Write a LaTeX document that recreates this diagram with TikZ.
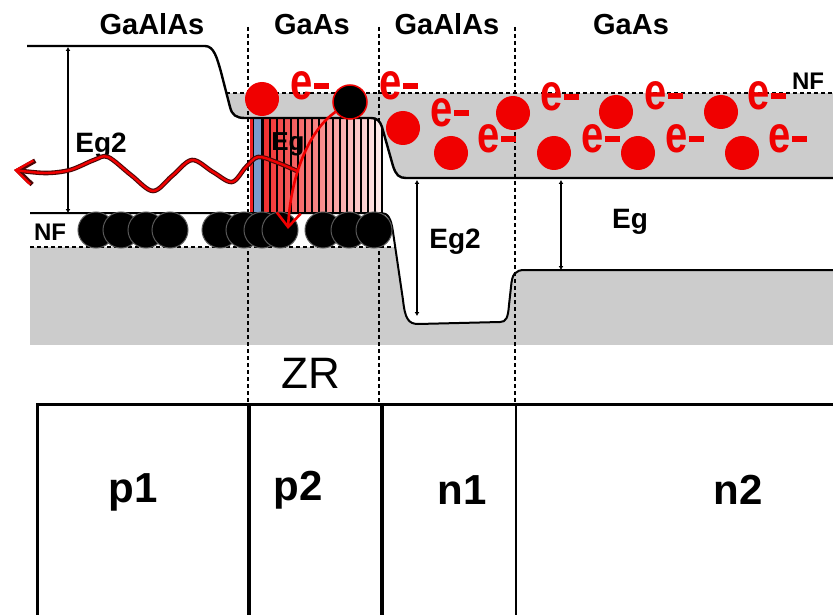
\documentclass[tikz,border=0pt]{standalone}
\usepackage{fontspec}
\setmainfont{Liberation Sans}
\usepackage{graphicx}
\usetikzlibrary{arrows.meta}

\definecolor{elecRed}{HTML}{F00000}
\definecolor{bandGray}{HTML}{CCCCCC}
\definecolor{photonDark}{HTML}{4A0808}
\definecolor{stripBlue}{HTML}{7A9CCB}

% electron charge label: tall e followed by a bar
\newcommand{\echarge}{\scalebox{1}[1.3]{e}\hspace{1pt}\rule[11pt]{15pt}{5.5pt}}

% band edges (pixel grid, y downwards)
\newcommand{\condband}{(27,46) -- (205,46) .. controls (214,46) and (217,58) .. (221,72)
  -- (230,107) .. controls (232,115) and (236,118) .. (245,118) -- (371,118)
  .. controls (377,118) and (380,121) .. (382,127) -- (393,166)
  .. controls (396,175) and (399,178) .. (406,178) -- (833,178)}
\newcommand{\valband}{(30,213) -- (381,213) .. controls (388,213) and (391,218) .. (393,232)
  -- (403,300) .. controls (405,318) and (408,324) .. (418,324) -- (500,322)
  .. controls (506,322) and (508,318) .. (509,305) -- (511,287)
  .. controls (512,274) and (515,270) .. (525,270) -- (833,270)}

\tikzset{
    band/.style={
        line width=2.4pt,
        line join=round
    },
    fermi/.style={
        dash pattern=on 4pt off 3pt,
        line width=1.3pt
    },
    border/.style={
        dash pattern=on 4pt off 3pt,
        line width=1.8pt
    },
    gap/.style={
        {Latex[length=4pt,width=5pt]}-{Latex[length=4pt,width=5pt]},
        line width=1.8pt
    },
    electron/.style={
        circle,
        fill=elecRed,
        minimum size=34pt,
        inner sep=0pt
    },
    trapped/.style={
        electron,
        fill=black,
        draw=elecRed,
        line width=1.5pt
    },
    hole/.style={
        circle,
        fill=black,
        draw=black!65,
        line width=1pt,
        minimum size=36pt,
        inner sep=0pt
    },
    charge/.style={
        text=elecRed,
        font=\bfseries\fontsize{40}{40}\selectfont,
        inner sep=0pt
    },
    material/.style={
        anchor=base,
        inner sep=0pt,
        font=\bfseries\fontsize{29}{31}\selectfont
    },
    gaplabel/.style={
        anchor=base,
        inner sep=0pt,
        font=\bfseries\fontsize{28}{30}\selectfont
    },
    fermilabel/.style={
        anchor=base,
        inner sep=0pt,
        font=\bfseries\fontsize{24}{26}\selectfont
    },
    zone/.style={
        anchor=base,
        inner sep=0pt,
        font=\bfseries\fontsize{42}{44}\selectfont
    },
    photon/.style={
        line width=#1,
        line cap=round,
        line join=round,
        -{Straight Barb[length=16pt,width=24pt]}
    },
    drop/.style={
        draw=elecRed,
        line width=2.6pt,
        -{Straight Barb[length=14pt,width=24pt]}
    }
}

\begin{document}
\begin{tikzpicture}[x=1pt,y=-1pt]
    \useasboundingbox (0,0) rectangle (833,615);
    \fill[white] (0,0) rectangle (833,615);

    % filled states under the Fermi levels
    \begin{scope}
        \clip \condband -- (833,0) -- (27,0) -- cycle;
        \fill[bandGray] (224,93) rectangle (833,200);
    \end{scope}
    \begin{scope}
        \clip \valband -- (833,400) -- (30,400) -- cycle;
        \fill[bandGray] (30,247) rectangle (833,345);
    \end{scope}

    % Fermi levels
    \draw[fermi] (226,93) -- (833,93);
    \draw[fermi] (30,247) -- (395,247);

    % layer borders
    \foreach \bx in {248,379,515}
        \draw[border] (\bx,27) -- (\bx,402);

    % recombination zone in the GaAs layer
    \fill[left color=elecRed!90, right color=elecRed!6] (250,118) -- (371,118)
        .. controls (377,118) and (382,122) .. (382,128) -- (382,213) -- (250,213) -- cycle;
    \foreach \sx in {263,270,...,378}
        \draw[line width=1.5pt] (\sx,118) -- (\sx,213);
    \filldraw[fill=stripBlue, draw=black, line width=0.8pt] (253,118) rectangle (261,213);
    \draw[band] (382,127) -- (382,213);

    % band edges
    \draw[band] \condband;
    \draw[line width=2pt, line join=round] \valband;

    % gap widths
    \coordinate (gapLtop) at (68,47);
    \coordinate (gapLbot) at (68,213);
    \coordinate (gapMtop) at (417,180);
    \coordinate (gapMbot) at (417,316);
    \coordinate (gapRtop) at (561,180);
    \coordinate (gapRbot) at (561,270);
    \draw[gap] (gapLtop) -- (gapLbot);
    \draw[gap] (gapMtop) -- (gapMbot);
    \draw[gap] (gapRtop) -- (gapRbot);

    \node[gaplabel] (egtwoL) at (101,153) {Eg2};
    \node[gaplabel] (egtwoM) at (455,248) {Eg2};
    \node[gaplabel] (egR) at (630,228) {Eg};
    \node[gaplabel, font=\bfseries\fontsize{26}{28}\selectfont] (egzone) at (288,150) {Eg};

    % emitted photon
    \coordinate (photonA) at (297,171);
    \coordinate (photonB) at (14,170);
    \draw[photon=4.6pt, draw=photonDark] plot[smooth, tension=0.55] coordinates {(photonA) (276,162) (258,157) (246,167) (232,182) (213,172) (192,160) (172,176) (153,191) (131,175) (108,157) (94,160) (70,170) (45,173) (photonB)};
    \draw[photon=2.4pt, draw=elecRed] plot[smooth, tension=0.55] coordinates {(photonA) (276,162) (258,157) (246,167) (232,182) (213,172) (192,160) (172,176) (153,191) (131,175) (108,157) (94,160) (70,170) (45,173) (photonB)};

    % holes in the valence band
    \foreach \hx [count=\i] in {96,121,146,170,220,244,262,280,323,349,374}
        \node[hole] (hole\i) at (\hx,230) {};

    % electrons in the conduction band
    \foreach \ex/\ey [count=\i] in {262/99,403/128,451/153,513/113,554/153,616/112,638/153,721/112,742/153}
        \node[electron] (el\i) at (\ex,\ey) {};
    \node[trapped] (elbound) at (350,102) {};
    \foreach \qx/\qy [count=\i] in {310/86,399/86,450/113,497/139,560/97,601/139,664/96,685/139,767/96,788/139}
        \node[charge] (q\i) at (\qx,\qy) {\echarge};

    % recombination
    \coordinate (dropend) at (288,229);
    \draw[drop] (elbound) .. controls (312,128) and (291,170) .. (dropend);

    % Fermi level marks
    \node[fermilabel] (nfc) at (808,90) {NF};
    \node[fermilabel] (nfv) at (50,240) {NF};

    % materials
    \node[material] (matA) at (152,35) {GaAlAs};
    \node[material] (matB) at (312,35) {GaAs};
    \node[material] (matC) at (447,35) {GaAlAs};
    \node[material] (matD) at (631,35) {GaAs};

    \node[anchor=base, inner sep=0pt, font=\fontsize{44}{46}\selectfont] (zr) at (311,388) {ZR};

    % doping zones
    \draw[line width=3pt] (37,615) -- (37,404) -- (833,404);
    \draw[line width=4pt] (249,404) -- (249,615);
    \draw[line width=4pt] (382,404) -- (382,615);
    \draw[line width=2.5pt] (516,404) -- (516,615);
    \node[zone] (pone) at (133,502) {p1};
    \node[zone] (ptwo) at (298,500) {p2};
    \node[zone] (none) at (462,504) {n1};
    \node[zone] (ntwo) at (738,504) {n2};
\end{tikzpicture}
\end{document}
